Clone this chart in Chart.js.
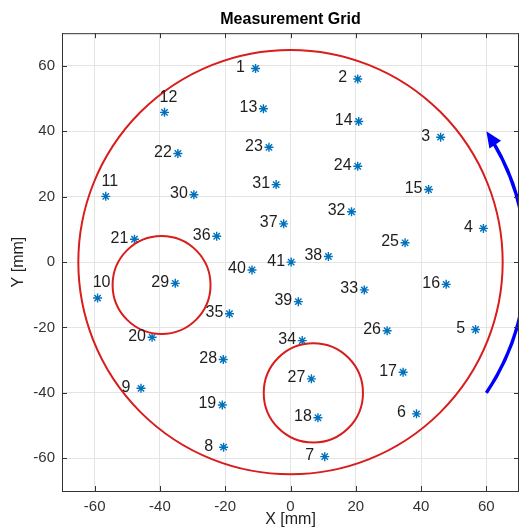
<!DOCTYPE html>
<html>
<head>
<meta charset="utf-8">
<script src="https://cdn.jsdelivr.net/npm/chart.js@4.4.1/dist/chart.umd.min.js"></script>
<style>
  html, body { margin: 0; padding: 0; background: #fff; }
  #wrap { width: 519px; height: 531px; }
</style>
</head>
<body>
<div id="wrap"><canvas id="gridChart" width="519" height="531"></canvas></div>
<script>
// measurement point ids and positions [mm]
const pointIds = [1, 2, 3, 4, 5, 6, 7, 8, 9, 10, 11, 12, 13, 14, 15, 16, 17, 18, 19, 20, 21,
  22, 23, 24, 25, 26, 27, 28, 29, 30, 31, 32, 33, 34, 35, 36, 37, 38, 39, 40, 41];
const pointX = [-10.7, 20.6, 46.0, 59.1, 56.7, 38.6, 10.5, -20.5, -45.8, -59.1, -56.6, -38.6, -8.3,
  20.9, 42.3, 47.7, 34.5, 8.4, -20.9, -42.4, -47.8, -34.5, -6.6, 20.6, 35.1, 29.6, 6.4, -20.6,
  -35.3, -29.6, -4.4, 18.7, 22.6, 3.6, -18.7, -22.6, -2.1, 11.6, 2.4, -11.8, 0.2];
const pointY = [59.2, 56.0, 38.2, 10.3, -20.6, -46.4, -59.5, -56.6, -38.6, -11.0, 20.1, 45.8, 46.9,
  43.0, 22.2, -6.8, -33.7, -47.6, -43.7, -23.0, 7.0, 33.2, 35.1, 29.3, 5.9, -21.0, -35.7, -29.8,
  -6.5, 20.6, 23.7, 15.4, -8.5, -24.0, -15.8, 7.9, 11.7, 1.7, -12.1, -2.4, 0.0];

// labels that sit above their marker instead of to the left
const labelsAbove = [10, 11, 12];

// circles: centre x, centre y, radius [mm]
const circleX = [0, -39.5, 7];
const circleY = [0, -7, -40];
const circleR = [65, 15, 15.2];

// rotation arrow: arc around the origin from start to end point [mm]
const arrowStart = [60, -40];
const arrowEnd = [60, 40];

const tickValues = [-60, -40, -20, 0, 20, 40, 60];
const axisMin = -70;
const axisMax = 70;

const axisColor = '#333333';
const fontFamily = '"Liberation Sans", Arial, Helvetica, sans-serif';

const overlay = {
  id: 'overlay',
  afterDatasetsDraw(chart) {
    const { ctx, chartArea: a, scales: { x, y } } = chart;

    ctx.save();
    ctx.beginPath();
    ctx.rect(a.left, a.top, a.right - a.left, a.bottom - a.top);
    ctx.clip();

    // red circles
    ctx.strokeStyle = '#d91c1c';
    ctx.lineWidth = 2;
    for (let i = 0; i < circleX.length; i++) {
      const cx = x.getPixelForValue(circleX[i]);
      const cy = y.getPixelForValue(circleY[i]);
      const r = x.getPixelForValue(circleR[i]) - x.getPixelForValue(0);
      ctx.beginPath();
      ctx.arc(cx, cy, r, 0, Math.PI * 2);
      ctx.stroke();
    }

    // blue arrow
    const ox = x.getPixelForValue(0), oy = y.getPixelForValue(0);
    const sx = x.getPixelForValue(arrowStart[0]), sy = y.getPixelForValue(arrowStart[1]);
    const ex = x.getPixelForValue(arrowEnd[0]), ey = y.getPixelForValue(arrowEnd[1]);
    const R = Math.hypot(sx - ox, sy - oy);
    const a0 = Math.atan2(sy - oy, sx - ox);
    const a1 = Math.atan2(ey - oy, ex - ox);
    const headLen = 16, headW = 7;
    ctx.strokeStyle = '#0000ff';
    ctx.fillStyle = '#0000ff';
    ctx.lineWidth = 3.5;
    ctx.beginPath();
    ctx.arc(ox, oy, R, a0, a1 + headLen / R * 0.8, true);
    ctx.stroke();
    const dx = Math.sin(a1), dy = -Math.cos(a1);
    const bx = ex - dx * headLen, by = ey - dy * headLen;
    ctx.beginPath();
    ctx.moveTo(ex, ey);
    ctx.lineTo(bx - dy * headW, by + dx * headW);
    ctx.lineTo(bx + dy * headW, by - dx * headW);
    ctx.closePath();
    ctx.fill();
    ctx.restore();

    // point labels
    ctx.save();
    ctx.font = '16px ' + fontFamily;
    ctx.fillStyle = '#1e1e1e';
    ctx.textAlign = 'center';
    ctx.textBaseline = 'middle';
    pointIds.forEach((id, i) => {
      const px = x.getPixelForValue(pointX[i]);
      const py = y.getPixelForValue(pointY[i]);
      if (labelsAbove.includes(id)) {
        ctx.fillText(String(id), px + 4, py - 15);
      } else {
        ctx.fillText(String(id), px - 15, py - 1);
      }
    });
    ctx.restore();

    // box and inward ticks
    ctx.save();
    ctx.strokeStyle = axisColor;
    ctx.lineWidth = 1;
    ctx.beginPath();
    ctx.moveTo(a.left, a.top + 0.5);
    ctx.lineTo(a.right, a.top + 0.5);
    ctx.moveTo(a.right - 0.5, a.top);
    ctx.lineTo(a.right - 0.5, a.bottom);
    tickValues.forEach(v => {
      const tx = Math.round(x.getPixelForValue(v)) + 0.5;
      const ty = Math.round(y.getPixelForValue(v)) + 0.5;
      ctx.moveTo(tx, a.bottom); ctx.lineTo(tx, a.bottom - 5);
      ctx.moveTo(tx, a.top); ctx.lineTo(tx, a.top + 5);
      ctx.moveTo(a.left, ty); ctx.lineTo(a.left + 5, ty);
      ctx.moveTo(a.right, ty); ctx.lineTo(a.right - 5, ty);
    });
    ctx.stroke();
    ctx.restore();
  }
};

const axisCommon = {
  type: 'linear',
  min: axisMin,
  max: axisMax,
  afterBuildTicks: s => { s.ticks = tickValues.map(v => ({ value: v })); },
  grid: { color: '#e4e4e4', drawTicks: false },
  border: { display: true, color: axisColor, width: 1 },
  ticks: { color: '#333', font: { size: 15, family: fontFamily } }
};

new Chart(document.getElementById('gridChart'), {
  type: 'scatter',
  data: {
    datasets: [{
      data: pointX.map((v, i) => ({ x: v, y: pointY[i] })),
      pointStyle: 'star',
      pointRadius: 4.5,
      borderColor: '#0072BD',
      backgroundColor: '#0072BD',
      borderWidth: 1.4
    }]
  },
  options: {
    responsive: false,
    animation: false,
    layout: { padding: 0, autoPadding: false },
    plugins: {
      legend: { display: false },
      tooltip: { enabled: false },
      title: {
        display: true,
        fullSize: false,
        text: 'Measurement Grid',
        color: '#000',
        font: { size: 16, weight: 'bold', family: fontFamily },
        padding: { top: 10, bottom: 4 }
      }
    },
    scales: {
      x: {
        ...axisCommon,
        position: 'bottom',
        afterFit: s => { s.height = 40; s.paddingLeft = 0; s.paddingRight = 0; },
        ticks: { ...axisCommon.ticks, padding: 7 },
        title: {
          display: true, text: 'X [mm]', color: '#222',
          font: { size: 16, family: fontFamily }, padding: { top: 0, bottom: 1.4 }
        }
      },
      y: {
        ...axisCommon,
        position: 'left',
        afterFit: s => { s.width = 62; s.paddingTop = 0; s.paddingBottom = 0; },
        ticks: { ...axisCommon.ticks, padding: 7 },
        title: {
          display: true, text: 'Y [mm]', color: '#222',
          font: { size: 16, family: fontFamily }, padding: { top: 8.7, bottom: 0 }
        }
      }
    }
  },
  plugins: [overlay]
});
</script>
</body>
</html>
